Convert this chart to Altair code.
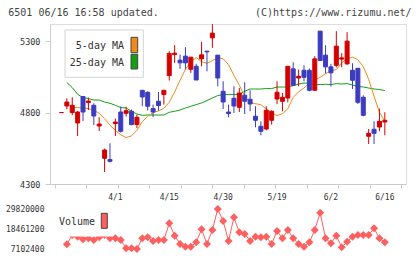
import altair as alt
import pandas as pd

# ---------------- data ----------------
opens = [4800, 4846, 4800, 4727, 4912, 4870, 4851, 4706, 4480, 4471,
         4723, 4804, 4795, 4809, 4716, 4956, 4942, 4828, 4879, 4926,
         5059, 5206, 5167, 5195, 5103, 5124, 5176, 5230, 5323, 5202,
         4949, 4804, 4900, 4837, 4921, 4893, 4774, 4704, 4685, 4746,
         4895, 4879, 4902, 5106, 5042, 5096, 5096, 4956, 5370, 5202,
         5120, 5131, 5174, 5141, 5096, 5110, 4907, 4634, 4683, 4699,
         4734]
closes = [4800, 4874, 4851, 4804, 4804, 4881, 4776, 4720, 4538, 4459,
          4734, 4669, 4813, 4716, 4767, 4909, 4844, 4804, 4849, 4956,
          5214, 5216, 5148, 5148, 5188, 5028, 5204, 5225, 5356, 5042,
          4874, 4793, 4846, 4937, 4879, 4860, 4746, 4669, 4816, 4809,
          4942, 4907, 5124, 4991, 5054, 5047, 4956, 5176, 5164, 5120,
          5078, 5265, 5183, 5300, 5026, 4872, 4781, 4655, 4655, 4739,
          4746]
highs = [4800, 4900, 4907, 4811, 4916, 4905, 4865, 4767, 4548, 4585,
         4758, 4842, 4842, 4821, 4786, 4956, 4949, 4856, 4944, 4956,
         5230, 5272, 5206, 5258, 5188, 5141, 5295, 5230, 5419, 5202,
         5019, 4856, 4984, 4972, 5012, 4956, 4844, 4739, 4844, 4816,
         5019, 4937, 5124, 5152, 5101, 5131, 5108, 5195, 5370, 5272,
         5141, 5370, 5216, 5363, 5145, 5110, 4921, 4685, 4739, 4828,
         4802]
lows = [4800, 4823, 4781, 4636, 4741, 4818, 4713, 4671, 4384, 4450,
        4636, 4660, 4772, 4711, 4692, 4844, 4814, 4769, 4814, 4856,
        5024, 5148, 5106, 5101, 5078, 5028, 5124, 5089, 5253, 4984,
        4825, 4767, 4797, 4804, 4790, 4809, 4697, 4641, 4676, 4716,
        4860, 4809, 4872, 4984, 4984, 5019, 4949, 4956, 5164, 5073,
        4982, 5117, 5117, 5134, 4965, 4860, 4774, 4580, 4580, 4669,
        4641]
ma5 = [None, None, 4837, 4835, 4832, 4828, 4816, 4795, 4757, 4711,
       4676, 4644, 4625, 4637, 4676, 4736, 4774, 4800, 4811, 4830,
       4872, 4944, 5026, 5103, 5156, 5185, 5156, 5145, 5163, 5184,
       5177, 5135, 5061, 4991, 4914, 4870, 4862, 4855, 4827, 4799,
       4779, 4792, 4827, 4907, 4946, 4972, 5005, 5026, 5047, 5072,
       5092, 5101, 5148, 5177, 5188, 5170, 5121, 5033, 4914, 4802,
       4739]
ma25 = [None, 5010, 4975, 4928, 4905, 4898, 4888, 4888, 4874, 4865,
        4851, 4835, 4832, 4809, 4790, 4781, 4783, 4783, 4783, 4783,
        4802, 4809, 4818, 4832, 4844, 4856, 4867, 4884, 4902, 4919,
        4926, 4926, 4926, 4928, 4949, 4965, 4965, 4965, 4968, 4968,
        4979, 4979, 4979, 4989, 5000, 5007, 5005, 4996, 4996, 4998,
        4996, 5003, 5000, 5003, 4993, 4984, 4979, 4972, 4965, 4961,
        4954]
volume = [None, 9770000, 15000000, 14000000, 12610000, 13180000, 12210000, 13750000, 15000000, 13180000,
          13180000, 12210000, 7500000, 7500000, 7102400, 13180000, 13750000, 11650000, 12210000, 12210000,
          21700000, 14660000, 9940000, 8410000, 8410000, 10910000, 18290000, 9940000, 17890000, 29820000,
          23000000, 11650000, 25100000, 16590000, 15620000, 11650000, 14090000, 13750000, 14090000, 9940000,
          17330000, 13180000, 17890000, 13180000, 9940000, 8410000, 10910000, 17890000, 27700000, 13180000,
          10340000, 14660000, 8070000, 11250000, 14090000, 15050000, 15050000, 15050000, 18860000, 13180000,
          10910000]
date_index = [10, 20, 30, 40, 50, 60]
date_labels = ["4/1", "4/15", "4/30", "5/19", "6/2", "6/16"]
price_ticks = [4300, 4800, 5300]
volume_ticks = [7102400, 18461200, 29820000]

n = len(opens)
df = pd.DataFrame({"i": list(range(n)), "open": opens, "high": highs, "low": lows,
                   "close": closes, "ma5": ma5, "ma25": ma25, "vol": volume})
df["dir"] = ["up" if c >= o else "down" for o, c in zip(opens, closes)]
dates = pd.DataFrame({"i": date_index, "label": date_labels})

# ---------------- style ----------------
W, H = 356, 160
FONT = "DejaVu Sans Mono"
RED, BLUE = "#d40000", "#3c3cc0"
ORANGE, GREEN = "#f08a18", "#12a012"
VOLC = "#ff5f5f"
AX = "#cccccc"
TXT = "#333333"

x_dom = [-1.2, 63.0]
grid_ticks = [x_dom[0] + k * (x_dom[1] - x_dom[0]) / 11 for k in range(12)]
xs = alt.Scale(domain=x_dom, nice=False, zero=False)
xaxis = alt.Axis(values=grid_ticks, labels=False, title=None, grid=False,
                 domainColor=AX, tickColor=AX, tickSize=4)
X = alt.X("i:Q", scale=xs, axis=xaxis)

ys = alt.Scale(domain=[4300, 5420], nice=False, zero=False)
yaxis = alt.Axis(values=price_ticks, format="d", title=None, grid=False, domainColor=AX,
                 tickColor=AX, tickSize=5, labelPadding=5, labelFont=FONT,
                 labelFontSize=8.5, labelColor=TXT)

col = alt.Color("dir:N", scale=alt.Scale(domain=["up", "down"], range=[RED, BLUE]), legend=None)

base = alt.Chart(df)

l5 = base.mark_line(color=ORANGE, strokeWidth=1).encode(
    x=X, y=alt.Y("ma5:Q", scale=ys, axis=yaxis)).transform_filter("datum.ma5 != null")
l25 = base.mark_line(color=GREEN, strokeWidth=1).encode(
    x=X, y=alt.Y("ma25:Q", scale=ys, axis=yaxis)).transform_filter("datum.ma25 != null")
wick = base.mark_rule(strokeWidth=1).encode(
    x=X, y=alt.Y("high:Q", scale=ys, axis=yaxis), y2="low:Q", color=col)
body = base.mark_bar(size=4, strokeWidth=1).encode(
    x=X, y=alt.Y("open:Q", scale=ys, axis=yaxis), y2="close:Q", color=col,
    stroke=alt.Stroke("dir:N", scale=alt.Scale(domain=["up", "down"], range=[RED, BLUE]), legend=None))

main = alt.layer(l25, l5, wick, body)

vs = alt.Scale(domain=[min(volume_ticks), max(volume_ticks)], range=[225, 185], nice=False, zero=False)
vaxis = alt.Axis(orient="left", values=volume_ticks, format="d", title=None, grid=False, domain=False,
                 ticks=False, labelPadding=6, labelFont=FONT, labelFontSize=8, labelColor=TXT)
vbase = base.transform_filter("datum.vol != null")
vline = vbase.mark_line(color=VOLC, strokeWidth=1).encode(x=X, y=alt.Y("vol:Q", scale=vs, axis=vaxis))
vpts = vbase.mark_point(shape="diamond", filled=True, size=64, color=VOLC, opacity=1).encode(
    x=X, y=alt.Y("vol:Q", scale=vs, axis=vaxis))
vol = alt.layer(vline, vpts)

one = alt.Chart(pd.DataFrame({"a": [0]}))

def rect(x1, x2, y1, y2, fill, stroke=None):
    kw = {"fill": fill}
    if stroke:
        kw.update(stroke=stroke, strokeWidth=1)
    return one.mark_rect(**kw).encode(x=alt.value(x1), x2=alt.value(x2), y=alt.value(y1), y2=alt.value(y2))

def text(s, x, y, align="left", size=10, color=TXT):
    return one.mark_text(text=s, align=align, baseline="middle", font=FONT, fontSize=size,
                         color=color).encode(x=alt.value(x), y=alt.value(y))

date_text = alt.Chart(dates).mark_text(font=FONT, fontSize=8, color=TXT, baseline="middle").encode(
    x=X, y=alt.value(174), text="label:N")

deco = alt.layer(
    rect(15, 93.3, 6, 53.3, "white", "#d4d4d4"),
    text("5-day MA", 74, 22, align="right"),
    text("25-day MA", 74, 39.3, align="right"),
    rect(81, 87.7, 13.3, 28.7, ORANGE, "#444444"),
    rect(81, 87.7, 30.3, 45, GREEN, "#444444"),
    rect(4, 62, 181, 212.5, "white"),
    text("Volume", 9, 197.7),
    rect(51.3, 57.3, 189.3, 204.3, VOLC, "#444444"),
    text("6501 06/16 16:58 updated.", -41.7, -11.3, color="#444444"),
    text("(C)https://www.rizumu.net/", 205, -11.3, color="#444444"),
)

chart = alt.layer(main, vol, date_text, deco).resolve_scale(y="independent").properties(
    width=W, height=H, autosize="none",
    padding={"left": 50, "top": 24, "right": 14, "bottom": 75},
).configure_view(stroke=None).configure(background="white")

chart.save("out.html", embed_options={"renderer": "svg", "actions": False})
